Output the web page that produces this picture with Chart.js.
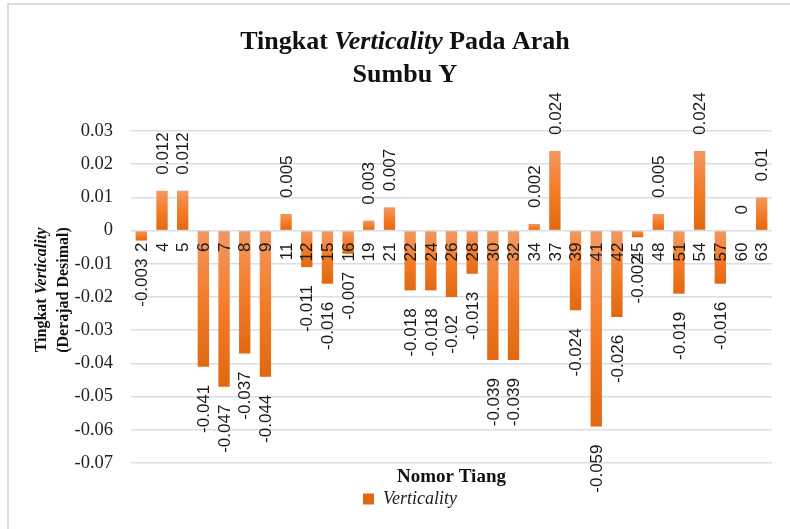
<!DOCTYPE html>
<html>
<head>
<meta charset="utf-8">
<script src="https://cdn.jsdelivr.net/npm/chart.js@4"></script>
<style>
  html, body { margin: 0; padding: 0; background: #fff; }
  #wrap { width: 790px; height: 529px; }
</style>
</head>
<body>
<div id="wrap"><canvas id="grafico"></canvas></div>
<script>
// ==================== DATA ====================
const nomorTiang = ["2", "4", "5", "6", "7", "8", "9", "11", "12", "15", "16", "19", "21", "22", "24", "26",
  "28", "30", "32", "34", "37", "39", "41", "42", "45", "48", "51", "54", "57", "60", "63"];

const verticality = [-0.003, 0.012, 0.012, -0.041, -0.047, -0.037, -0.044, 0.005, -0.011, -0.016, -0.007,
  0.003, 0.007, -0.018, -0.018, -0.02, -0.013, -0.039, -0.039, 0.002, 0.024, -0.024, -0.059, -0.026,
  -0.002, 0.005, -0.019, 0.024, -0.016, 0, 0.01];

const yMin = -0.07;
const yMax = 0.03;
const yStep = 0.01;

const judul = [
  [["Tingkat ", false], ["Verticality", true], [" Pada Arah", false]],
  [["Sumbu Y", false]],
];
const judulSumbuY = [
  [["Tingkat ", false], ["Verticality", true]],
  [["(Derajad Desimal)", false]],
];

// ==================== HELPERS ====================
const SERIF = '"Liberation Serif", "Times New Roman", serif';
const SANS = '"Liberation Sans", Arial, sans-serif';

function barFill(c) {
  const chart = c.chart;
  if (c.type !== "data" || !chart.chartArea) return "#EE7B2C";
  const y = chart.scales.y;
  const y0 = y.getPixelForValue(0);
  const y1 = y.getPixelForValue(c.raw);
  const top = Math.min(y0, y1);
  const bot = Math.max(y0, y1) + 0.5;
  const g = chart.ctx.createLinearGradient(0, top, 0, bot);
  g.addColorStop(0, "#F29862");
  g.addColorStop(0.5, "#F47C28");
  g.addColorStop(1, "#E06810");
  return g;
}

// draw a line of mixed bold / bold-italic text centred on (0, 0)
function drawMixed(ctx, segs, size) {
  let total = 0;
  const parts = segs.map(([text, italic]) => {
    const font = (italic ? "italic " : "") + "bold " + size + "px " + SERIF;
    ctx.font = font;
    const w = ctx.measureText(text).width;
    total += w;
    return { text, font, w };
  });
  let x = -total / 2;
  parts.forEach(p => {
    ctx.font = p.font;
    ctx.fillText(p.text, x, 0);
    x += p.w;
  });
}

function drawRot(ctx, text, x, y, align) {
  ctx.save();
  ctx.translate(x, y);
  ctx.rotate(-Math.PI / 2);
  ctx.textAlign = align;
  ctx.fillText(text, 0, 0);
  ctx.restore();
}

// ==================== PLUGINS ====================
const bingkaiPlugin = {
  id: "bingkai",
  beforeDraw(chart) {
    const ctx = chart.ctx;
    ctx.save();
    ctx.strokeStyle = "#D9DEE6";
    ctx.lineWidth = 2;
    ctx.beginPath();
    ctx.moveTo(8, 529);
    ctx.lineTo(8, 4);
    ctx.lineTo(790, 4);
    ctx.stroke();
    ctx.restore();
  },
  afterDraw(chart) {
    const ctx = chart.ctx;
    ctx.save();
    ctx.fillStyle = "#111";
    ctx.textBaseline = "middle";
    ctx.textAlign = "left";
    // judul grafik
    judul.forEach((line, i) => {
      ctx.save();
      ctx.translate(405, 42 + i * 33);
      drawMixed(ctx, line, 26);
      ctx.restore();
    });
    // judul sumbu Y
    judulSumbuY.forEach((line, i) => {
      ctx.save();
      ctx.translate(42 + i * 22, 290);
      ctx.rotate(-Math.PI / 2);
      drawMixed(ctx, line, 16);
      ctx.restore();
    });
    ctx.restore();
  },
};

const labelPlugin = {
  id: "labelBatang",
  afterDatasetsDraw(chart) {
    const ctx = chart.ctx;
    const y0 = chart.scales.y.getPixelForValue(0);
    const meta = chart.getDatasetMeta(0);
    ctx.save();
    ctx.fillStyle = "#1a1a1a";
    ctx.font = "17px " + SANS;
    ctx.textBaseline = "middle";
    meta.data.forEach((bar, i) => {
      const v = verticality[i];
      const cx = bar.x + 1;
      drawRot(ctx, nomorTiang[i], cx, y0 + 12, "right");
      if (v >= 0) drawRot(ctx, String(v), cx, bar.y - 16, "left");
      else drawRot(ctx, String(v), cx, bar.y + 18, "right");
    });
    ctx.restore();
  },
};

// ==================== CHART ====================
const config = {
  type: "bar",
  data: {
    labels: nomorTiang,
    datasets: [
      {
        label: "Verticality",
        data: verticality,
        backgroundColor: barFill,
        borderWidth: 0,
        barPercentage: 0.55,
        categoryPercentage: 1.0,
      },
    ],
  },
  options: {
    responsive: true,
    maintainAspectRatio: false,
    animation: false,
    layout: { padding: { top: 131, left: 48, right: 18, bottom: 11 } },
    plugins: {
      title: { display: false },
      tooltip: { enabled: false },
      legend: {
        position: "bottom",
        labels: {
          boxWidth: 11,
          boxHeight: 11,
          padding: 2,
          color: "#222",
          font: { family: SERIF, size: 18, style: "italic" },
        },
      },
    },
    scales: {
      x: {
        grid: { display: false, drawTicks: false },
        border: { display: false },
        ticks: { display: false },
        title: {
          display: true,
          text: "Nomor Tiang",
          color: "#111",
          padding: 0,
          font: { family: SERIF, size: 19, weight: "bold" },
        },
        afterFit(s) { s.height = 25; },
      },
      y: {
        min: yMin,
        max: yMax,
        grid: { color: "#D9DEE6", lineWidth: 1.5, drawTicks: false },
        border: { display: false },
        ticks: {
          stepSize: yStep,
          padding: 18,
          color: "#222",
          font: { family: SERIF, size: 18.5 },
          callback: v => String(Math.round(v * 1000) / 1000),
        },
        afterFit(s) { s.width = 83; },
      },
    },
  },
  plugins: [bingkaiPlugin, labelPlugin],
};

const grafico = new Chart(document.getElementById("grafico"), config);
</script>
</body>
</html>
